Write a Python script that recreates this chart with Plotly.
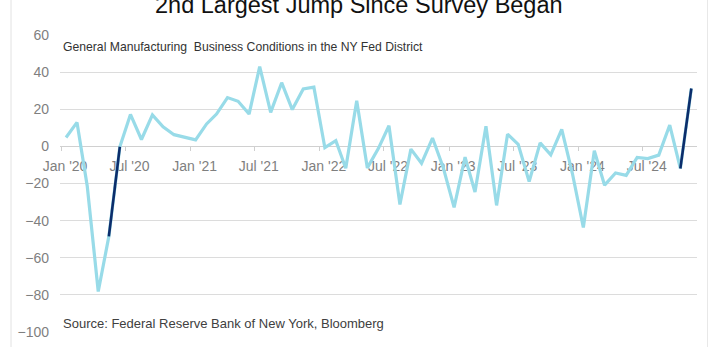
import plotly.graph_objects as go

# ---- data ----
months = [f"{y}-{m:02d}-15" for y in range(2020, 2025) for m in range(1, 13)][:59]
values = [
    4.8, 12.9, -21.5, -78.2, -48.5, -0.2, 17.2, 3.7, 17.0, 10.5, 6.3, 4.9,      # 2020
    3.5, 12.1, 17.4, 26.3, 24.3, 17.4, 43.0, 18.3, 34.3, 19.8, 30.9, 31.9,     # 2021
    -0.7, 3.1, -11.8, 24.6, -11.6, -1.2, 11.1, -31.3, -1.5, -9.1, 4.5, -11.2,  # 2022
    -32.9, -5.8, -24.6, 10.8, -31.8, 6.6, 1.1, -19.0, 1.9, -4.6, 9.1, -14.5,   # 2023
    -43.7, -2.4, -20.9, -14.3, -15.6, -6.0, -6.6, -4.7, 11.5, -11.9, 31.2,     # 2024
]
jump_segments = [(4, 5), (57, 58)]  # indices of big-jump segments (May->Jun 2020, Oct->Nov 2024)

tick_vals = [f"{y}-{m:02d}-01" for y in range(2020, 2025) for m in (1, 7)]
tick_text = [f"{'Jan' if m == 1 else 'Jul'} '{str(y)[2:]}" for y in range(2020, 2025) for m in (1, 7)]
y_ticks = [60, 40, 20, 0, -20, -40, -60, -80, -100]

title = "2nd Largest Jump Since Survey Began"
subtitle = "General Manufacturing  Business Conditions in the NY Fed District"
source = "Source: Federal Reserve Bank of New York, Bloomberg"

# ---- layout geometry (pixels) ----
W, H = 712, 347
L, R, T, B = 60, 15, 35, 15
pw, ph = W - L - R, H - T - B


def px_x(p):
    return (p - L) / pw


def px_y(p):
    return (H - B - p) / ph


LIGHT = "#98dbe8"
DARK = "#0c2d6b"
GRID = "#dcdcdc"
TICKFONT = dict(family="Liberation Sans, Arial, sans-serif", size=14, color="#7f7f7f")

fig = go.Figure()
fig.add_trace(go.Scatter(x=months, y=values, mode="lines",
                         line=dict(color=LIGHT, width=3.2), hoverinfo="skip"))
for a, b in jump_segments:
    fig.add_trace(go.Scatter(x=months[a:b + 1], y=values[a:b + 1], mode="lines",
                             line=dict(color=DARK, width=2.6), hoverinfo="skip"))

fig.update_layout(
    width=W, height=H,
    margin=dict(l=L, r=R, t=T, b=B, autoexpand=False),
    paper_bgcolor="white", plot_bgcolor="white",
    showlegend=False,
    xaxis=dict(
        type="date", automargin=False,
        range=["2019-12-29", "2024-12-01"],
        tickvals=tick_vals, ticktext=tick_text,
        ticks="outside", ticklen=4, tickcolor="#cfcfcf", tickwidth=1,
        showgrid=False, showline=False, zeroline=False,
        anchor="free", position=100 / 160,
        tickfont=TICKFONT, ticklabelshift=4, ticklabelstandoff=3,
        layer="below traces",
    ),
    yaxis=dict(
        automargin=False,
        range=[-100, 60], tickvals=y_ticks,
        showgrid=True, gridcolor=GRID, gridwidth=1,
        zeroline=True, zerolinecolor="#d0d0d0", zerolinewidth=1,
        showline=False, ticks="", tickfont=TICKFONT, ticklabelstandoff=10,
    ),
    annotations=[
        dict(text=title, xref="paper", yref="paper", x=px_x(359), y=px_y(20),
             xanchor="center", yanchor="bottom", showarrow=False,
             font=dict(family="Liberation Sans, Arial, sans-serif", size=23.5, color="#111111")),
        dict(text=subtitle, xref="paper", yref="paper", x=px_x(61), y=px_y(47),
             xanchor="left", yanchor="middle", showarrow=False,
             font=dict(family="Liberation Sans, Arial, sans-serif", size=12.2, color="#333333")),
        dict(text=source, xref="paper", yref="paper", x=px_x(61), y=px_y(323),
             xanchor="left", yanchor="middle", showarrow=False,
             font=dict(family="Liberation Sans, Arial, sans-serif", size=13, color="#404040")),
    ],
    shapes=[
        dict(type="line", xref="paper", yref="paper", x0=px_x(11), x1=px_x(11),
             y0=px_y(H), y1=px_y(0), line=dict(color="#e2e2e2", width=1)),
        dict(type="line", xref="paper", yref="paper", x0=px_x(707.5), x1=px_x(707.5),
             y0=px_y(H), y1=px_y(0), line=dict(color="#e8e8e8", width=1)),
    ],
)

fig.write_html("out.html")
